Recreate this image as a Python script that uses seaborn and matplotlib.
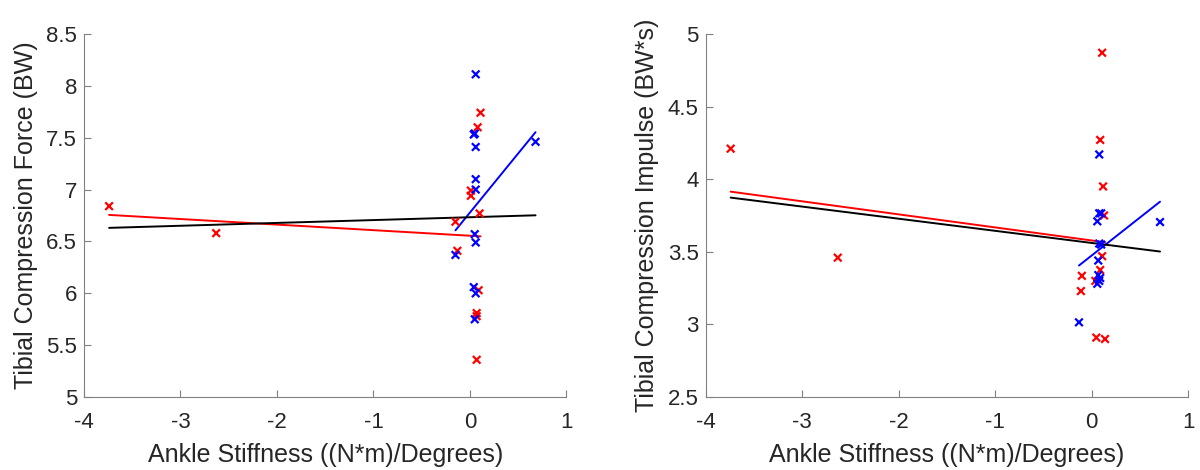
import numpy as np
import pandas as pd
import matplotlib
matplotlib.use("Agg")
import matplotlib.pyplot as plt
import seaborn as sns

# Ankle stiffness vs tibial compression force (BW)
force_red_x = [-3.74, -2.63, 0.11, 0.08, 0.01, 0.01, 0.10, -0.15, -0.13, 0.09, 0.07, 0.07, 0.07]
force_red_y = [6.84, 6.58, 7.74, 7.60, 6.99, 6.94, 6.77, 6.69, 6.41, 6.03, 5.81, 5.78, 5.36]
force_blue_x = [0.06, 0.04, 0.05, 0.06, 0.68, 0.06, 0.06, 0.05, 0.06, -0.15, 0.04, 0.06, 0.05]
force_blue_y = [8.11, 7.53, 7.54, 7.41, 7.46, 7.10, 7.00, 6.57, 6.49, 6.37, 6.06, 6.00, 5.75]

# Ankle stiffness vs tibial compression impulse (BW*s)
imp_red_x = [-3.74, -2.63, 0.11, 0.09, 0.12, 0.13, 0.11, 0.09, 0.04, -0.10, -0.11, 0.05, 0.14]
imp_red_y = [4.21, 3.46, 4.87, 4.27, 3.95, 3.75, 3.47, 3.375, 3.30, 3.335, 3.23, 2.91, 2.90]
imp_blue_x = [0.08, 0.08, 0.10, 0.06, 0.71, 0.08, 0.10, 0.07, 0.09, 0.08, 0.06, 0.07, -0.13]
imp_blue_y = [4.17, 3.765, 3.765, 3.71, 3.705, 3.557, 3.55, 3.44, 3.32, 3.30, 3.28, 3.34, 3.015]

x_ticks = [-4, -3, -2, -1, 0, 1]
x_ticklabels = ["-4", "-3", "-2", "-1", "0", "1"]
force_ticks = [5, 5.5, 6, 6.5, 7, 7.5, 8, 8.5]
force_ticklabels = ["5", "5.5", "6", "6.5", "7", "7.5", "8", "8.5"]
imp_ticks = [2.5, 3, 3.5, 4, 4.5, 5]
imp_ticklabels = ["2.5", "3", "3.5", "4", "4.5", "5"]

x_label = "Ankle Stiffness ((N*m)/Degrees)"
force_label = "Tibial Compression Force (BW)"
imp_label = "Tibial Compression Impulse (BW*s)"

sns.set_style("ticks")
plt.rcParams["font.family"] = ["Liberation Sans", "DejaVu Sans"]

TXT = "#262626"
SPINE = "#808080"
RED = "#FF0000"
BLUE = "#0000FF"


def make_frame(rx, ry, bx, by):
    return pd.DataFrame({
        "x": list(rx) + list(bx),
        "y": list(ry) + list(by),
        "group": ["red"] * len(rx) + ["blue"] * len(bx),
    })


def draw_panel(ax, df, yticks, yticklabels, ylim, ylabel):
    red = df[df.group == "red"]
    blue = df[df.group == "blue"]
    # least-squares fits over each group's own x range, and over all points
    sns.regplot(data=red, x="x", y="y", ax=ax, scatter=False, ci=None, truncate=True,
                line_kws=dict(color=RED, lw=1.4))
    sns.regplot(data=blue, x="x", y="y", ax=ax, scatter=False, ci=None, truncate=True,
                line_kws=dict(color=BLUE, lw=1.4))
    sns.regplot(data=df, x="x", y="y", ax=ax, scatter=False, ci=None, truncate=True,
                line_kws=dict(color="black", lw=1.4))
    sns.scatterplot(data=df, x="x", y="y", hue="group", palette={"red": RED, "blue": BLUE},
                    marker="x", s=30, linewidth=1.6, ax=ax, legend=False, zorder=3)
    ax.set_xlim(-4, 1)
    ax.set_ylim(*ylim)
    ax.set_xticks(x_ticks)
    ax.set_xticklabels(x_ticklabels)
    ax.set_yticks(yticks)
    ax.set_yticklabels(yticklabels)
    ax.set_xlabel(x_label, fontsize=18, color=TXT, labelpad=7)
    ax.set_ylabel(ylabel, fontsize=18, color=TXT, labelpad=6)
    ax.tick_params(direction="in", length=5, width=0.8, colors=SPINE, labelcolor=TXT,
                   labelsize=16)
    ax.tick_params(axis="x", pad=11)
    ax.tick_params(axis="y", pad=5)
    for side in ("top", "right"):
        ax.spines[side].set_visible(False)
    for side in ("left", "bottom"):
        ax.spines[side].set_color(SPINE)
        ax.spines[side].set_linewidth(0.8)


fig = plt.figure(figsize=(12, 4.7), dpi=100)
ax1 = fig.add_axes([0.070, 0.155, 0.402, 0.773])
ax2 = fig.add_axes([0.588, 0.155, 0.402, 0.773])

draw_panel(ax1, make_frame(force_red_x, force_red_y, force_blue_x, force_blue_y),
           force_ticks, force_ticklabels, (5, 8.5), force_label)
draw_panel(ax2, make_frame(imp_red_x, imp_red_y, imp_blue_x, imp_blue_y),
           imp_ticks, imp_ticklabels, (2.5, 5), imp_label)

fig.savefig("out.png", dpi=100)
